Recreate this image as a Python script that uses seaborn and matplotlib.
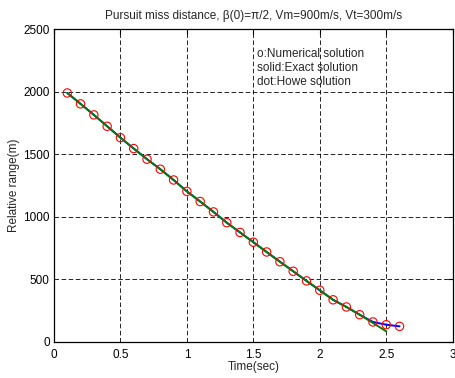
import matplotlib
matplotlib.use("Agg")
import matplotlib.pyplot as plt
import seaborn as sns
import numpy as np
import pandas as pd

# Data
t_num = [0.1, 0.2, 0.3, 0.4, 0.5, 0.6, 0.7, 0.8, 0.9, 1.0, 1.1, 1.2, 1.3,
         1.4, 1.5, 1.6, 1.7, 1.8, 1.9, 2.0, 2.1, 2.2, 2.3, 2.4, 2.5, 2.6]
r_num = [1989, 1902, 1814, 1723, 1632, 1545, 1460, 1380, 1294, 1203, 1122,
         1039, 953, 875, 797, 719, 641, 565, 488, 413, 337, 280, 218, 160,
         138, 125]
t_exact = [0.1, 0.2, 0.3, 0.4, 0.5, 0.6, 0.7, 0.8, 0.9, 1.0, 1.1, 1.2, 1.3,
           1.4, 1.5, 1.6, 1.7, 1.8, 1.9, 2.0, 2.1, 2.2, 2.3, 2.4, 2.5]
r_exact = [1989, 1902, 1814, 1723, 1632, 1545, 1460, 1380, 1294, 1203, 1122,
           1039, 953, 875, 797, 719, 641, 565, 488, 413, 337, 280, 218, 152,
           85]
t_howe = t_num
r_howe = r_num

title = "Pursuit miss distance, \u03b2(0)=\u03c0/2, Vm=900m/s, Vt=300m/s"
xlabel = "Time(sec)"
ylabel = "Relative range(m)"
notes = ["o:Numerical solution", "solid:Exact solution", "dot:Howe solution"]
xticks = [0, 0.5, 1, 1.5, 2, 2.5, 3]
xticklabels = ["0", "0.5", "1", "1.5", "2", "2.5", "3"]
yticks = [0, 500, 1000, 1500, 2000, 2500]

sns.set_style("white")
plt.rcParams['font.family'] = ['Liberation Sans', 'DejaVu Sans']

fig = plt.figure(figsize=(4.55, 3.78), dpi=100)
ax = fig.add_axes([54/455, 1-342/378, 398.7/455, 313/378])

df_howe = pd.DataFrame({"t": t_howe, "r": r_howe})
df_exact = pd.DataFrame({"t": t_exact, "r": r_exact})
df_num = pd.DataFrame({"t": t_num, "r": r_num})

sns.lineplot(data=df_howe, x="t", y="r", ax=ax, color="#0000ff", lw=1.4,
             sort=False, estimator=None, zorder=3)
sns.lineplot(data=df_exact, x="t", y="r", ax=ax, color="#007f00", lw=1.4,
             sort=False, estimator=None, zorder=4)
sns.scatterplot(data=df_num, x="t", y="r", ax=ax, marker="o", s=36,
                facecolors="none", edgecolor="#ff0000", linewidth=0.8,
                zorder=5)

ax.set_xlim(0, 3)
ax.set_ylim(0, 2500)
ax.set_xticks(xticks)
ax.set_xticklabels(xticklabels)
ax.set_yticks(yticks)
ax.grid(True, color="k", linestyle=(0, (5.5, 3)), linewidth=0.6)
ax.set_axisbelow(True)
ax.tick_params(direction="in", length=3.5, width=0.8, labelsize=8.5,
               top=True, right=True, colors="k", pad=3)
ax.tick_params(axis="x", pad=5)
for s in ax.spines.values():
    s.set_color("k")
    s.set_linewidth(0.9)

ax.set_title(title, fontsize=8.5, pad=7)
ax.set_xlabel(xlabel, fontsize=8.5, labelpad=0)
ax.set_ylabel(ylabel, fontsize=8.5)
ax.yaxis.set_label_coords(-0.085, 0.5)

for i, s in enumerate(notes):
    ax.text(1.53, 2300 - i * 112, s, fontsize=8.5, va="center", ha="left")

fig.savefig("out.png", dpi=100)
